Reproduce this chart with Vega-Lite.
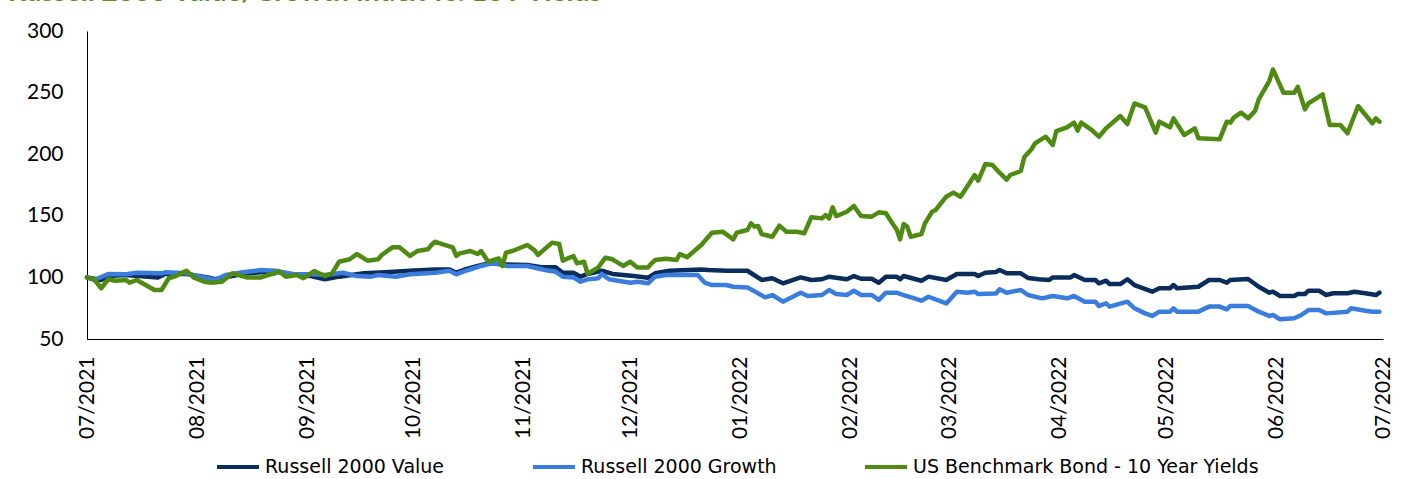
{
  "$schema": "https://vega.github.io/schema/vega-lite/v6.json",
  "width": 1296,
  "height": 308,
  "autosize": {"type": "none"},
  "padding": {"left": 87, "top": 31, "right": 19, "bottom": 140},
  "background": "white",
  "title": {"text": "Russell 2000 Value/Growth Index vs. 10Y Yields", "anchor": "start", "frame": "group", "dx": -79, "dy": -13, "offset": 0, "color": "#54921b", "font": "Lato", "fontSize": 28, "fontWeight": "bold"},
  "config": {"view": {"stroke": null}, "font": "Lato"},
  "data": {"values": [
    {"date":"2021-07-01","series":"Russell 2000 Value","value":100},
    {"date":"2021-07-05","series":"Russell 2000 Value","value":97.9},
    {"date":"2021-07-07","series":"Russell 2000 Value","value":101.1},
    {"date":"2021-07-12","series":"Russell 2000 Value","value":101.9},
    {"date":"2021-07-21","series":"Russell 2000 Value","value":100},
    {"date":"2021-07-23","series":"Russell 2000 Value","value":102.7},
    {"date":"2021-07-29","series":"Russell 2000 Value","value":102.7},
    {"date":"2021-08-04","series":"Russell 2000 Value","value":100},
    {"date":"2021-08-06","series":"Russell 2000 Value","value":98.5},
    {"date":"2021-08-15","series":"Russell 2000 Value","value":103.3},
    {"date":"2021-08-19","series":"Russell 2000 Value","value":104.1},
    {"date":"2021-08-23","series":"Russell 2000 Value","value":104.5},
    {"date":"2021-08-28","series":"Russell 2000 Value","value":102.5},
    {"date":"2021-09-02","series":"Russell 2000 Value","value":101.1},
    {"date":"2021-09-06","series":"Russell 2000 Value","value":98.5},
    {"date":"2021-09-10","series":"Russell 2000 Value","value":100.6},
    {"date":"2021-09-17","series":"Russell 2000 Value","value":103.3},
    {"date":"2021-09-23","series":"Russell 2000 Value","value":104.1},
    {"date":"2021-09-30","series":"Russell 2000 Value","value":105.4},
    {"date":"2021-10-07","series":"Russell 2000 Value","value":106.5},
    {"date":"2021-10-11","series":"Russell 2000 Value","value":106.5},
    {"date":"2021-10-13","series":"Russell 2000 Value","value":103.8},
    {"date":"2021-10-15","series":"Russell 2000 Value","value":106},
    {"date":"2021-10-19","series":"Russell 2000 Value","value":109.3},
    {"date":"2021-10-22","series":"Russell 2000 Value","value":111.4},
    {"date":"2021-10-26","series":"Russell 2000 Value","value":110.6},
    {"date":"2021-11-02","series":"Russell 2000 Value","value":110.1},
    {"date":"2021-11-06","series":"Russell 2000 Value","value":108.2},
    {"date":"2021-11-10","series":"Russell 2000 Value","value":108.2},
    {"date":"2021-11-12","series":"Russell 2000 Value","value":103.8},
    {"date":"2021-11-15","series":"Russell 2000 Value","value":103.8},
    {"date":"2021-11-17","series":"Russell 2000 Value","value":100.6},
    {"date":"2021-11-19","series":"Russell 2000 Value","value":102.8},
    {"date":"2021-11-23","series":"Russell 2000 Value","value":105.4},
    {"date":"2021-11-26","series":"Russell 2000 Value","value":102.8},
    {"date":"2021-12-02","series":"Russell 2000 Value","value":101.1},
    {"date":"2021-12-06","series":"Russell 2000 Value","value":99.8},
    {"date":"2021-12-08","series":"Russell 2000 Value","value":103.3},
    {"date":"2021-12-12","series":"Russell 2000 Value","value":105.4},
    {"date":"2021-12-21","series":"Russell 2000 Value","value":106.5},
    {"date":"2021-12-23","series":"Russell 2000 Value","value":106},
    {"date":"2021-12-28","series":"Russell 2000 Value","value":105.4},
    {"date":"2022-01-03","series":"Russell 2000 Value","value":105.4},
    {"date":"2022-01-07","series":"Russell 2000 Value","value":97.9},
    {"date":"2022-01-10","series":"Russell 2000 Value","value":99.3},
    {"date":"2022-01-13","series":"Russell 2000 Value","value":95.2},
    {"date":"2022-01-18","series":"Russell 2000 Value","value":100},
    {"date":"2022-01-21","series":"Russell 2000 Value","value":97.9},
    {"date":"2022-01-24","series":"Russell 2000 Value","value":98.5},
    {"date":"2022-01-26","series":"Russell 2000 Value","value":100.6},
    {"date":"2022-01-31","series":"Russell 2000 Value","value":98.5},
    {"date":"2022-02-02","series":"Russell 2000 Value","value":101.1},
    {"date":"2022-02-04","series":"Russell 2000 Value","value":98.9},
    {"date":"2022-02-07","series":"Russell 2000 Value","value":98.9},
    {"date":"2022-02-09","series":"Russell 2000 Value","value":95.7},
    {"date":"2022-02-11","series":"Russell 2000 Value","value":100.6},
    {"date":"2022-02-14","series":"Russell 2000 Value","value":100.6},
    {"date":"2022-02-15","series":"Russell 2000 Value","value":98.5},
    {"date":"2022-02-16","series":"Russell 2000 Value","value":101.1},
    {"date":"2022-02-21","series":"Russell 2000 Value","value":97.3},
    {"date":"2022-02-23","series":"Russell 2000 Value","value":100.6},
    {"date":"2022-02-28","series":"Russell 2000 Value","value":97.9},
    {"date":"2022-03-03","series":"Russell 2000 Value","value":102.8},
    {"date":"2022-03-08","series":"Russell 2000 Value","value":102.8},
    {"date":"2022-03-09","series":"Russell 2000 Value","value":101.1},
    {"date":"2022-03-11","series":"Russell 2000 Value","value":103.8},
    {"date":"2022-03-14","series":"Russell 2000 Value","value":104.4},
    {"date":"2022-03-15","series":"Russell 2000 Value","value":106},
    {"date":"2022-03-17","series":"Russell 2000 Value","value":103.3},
    {"date":"2022-03-21","series":"Russell 2000 Value","value":103.3},
    {"date":"2022-03-23","series":"Russell 2000 Value","value":99.6},
    {"date":"2022-03-26","series":"Russell 2000 Value","value":98.5},
    {"date":"2022-03-29","series":"Russell 2000 Value","value":97.9},
    {"date":"2022-03-30","series":"Russell 2000 Value","value":100},
    {"date":"2022-04-04","series":"Russell 2000 Value","value":100},
    {"date":"2022-04-05","series":"Russell 2000 Value","value":101.9},
    {"date":"2022-04-08","series":"Russell 2000 Value","value":97.9},
    {"date":"2022-04-11","series":"Russell 2000 Value","value":97.9},
    {"date":"2022-04-12","series":"Russell 2000 Value","value":95.2},
    {"date":"2022-04-14","series":"Russell 2000 Value","value":97.3},
    {"date":"2022-04-15","series":"Russell 2000 Value","value":94.6},
    {"date":"2022-04-18","series":"Russell 2000 Value","value":94.6},
    {"date":"2022-04-20","series":"Russell 2000 Value","value":98.5},
    {"date":"2022-04-22","series":"Russell 2000 Value","value":93.8},
    {"date":"2022-04-27","series":"Russell 2000 Value","value":88.4},
    {"date":"2022-04-29","series":"Russell 2000 Value","value":91.2},
    {"date":"2022-05-02","series":"Russell 2000 Value","value":91.2},
    {"date":"2022-05-03","series":"Russell 2000 Value","value":93.8},
    {"date":"2022-05-04","series":"Russell 2000 Value","value":91.2},
    {"date":"2022-05-10","series":"Russell 2000 Value","value":92.4},
    {"date":"2022-05-13","series":"Russell 2000 Value","value":97.9},
    {"date":"2022-05-16","series":"Russell 2000 Value","value":97.9},
    {"date":"2022-05-18","series":"Russell 2000 Value","value":95.7},
    {"date":"2022-05-19","series":"Russell 2000 Value","value":97.9},
    {"date":"2022-05-24","series":"Russell 2000 Value","value":98.7},
    {"date":"2022-05-27","series":"Russell 2000 Value","value":92.4},
    {"date":"2022-05-30","series":"Russell 2000 Value","value":87.6},
    {"date":"2022-05-31","series":"Russell 2000 Value","value":88.4},
    {"date":"2022-06-02","series":"Russell 2000 Value","value":84.9},
    {"date":"2022-06-06","series":"Russell 2000 Value","value":84.9},
    {"date":"2022-06-07","series":"Russell 2000 Value","value":86.5},
    {"date":"2022-06-09","series":"Russell 2000 Value","value":86.5},
    {"date":"2022-06-10","series":"Russell 2000 Value","value":89.2},
    {"date":"2022-06-13","series":"Russell 2000 Value","value":89.2},
    {"date":"2022-06-15","series":"Russell 2000 Value","value":85.7},
    {"date":"2022-06-17","series":"Russell 2000 Value","value":87.1},
    {"date":"2022-06-21","series":"Russell 2000 Value","value":87.1},
    {"date":"2022-06-23","series":"Russell 2000 Value","value":88.4},
    {"date":"2022-06-26","series":"Russell 2000 Value","value":87.1},
    {"date":"2022-06-29","series":"Russell 2000 Value","value":85.7},
    {"date":"2022-06-30","series":"Russell 2000 Value","value":87.6},
    {"date":"2021-07-01","series":"Russell 2000 Growth","value":100},
    {"date":"2021-07-03","series":"Russell 2000 Growth","value":97.9},
    {"date":"2021-07-07","series":"Russell 2000 Growth","value":102.8},
    {"date":"2021-07-12","series":"Russell 2000 Growth","value":102.6},
    {"date":"2021-07-15","series":"Russell 2000 Growth","value":103.8},
    {"date":"2021-07-22","series":"Russell 2000 Growth","value":103.3},
    {"date":"2021-07-23","series":"Russell 2000 Growth","value":104.1},
    {"date":"2021-07-29","series":"Russell 2000 Growth","value":103.3},
    {"date":"2021-08-02","series":"Russell 2000 Growth","value":100.6},
    {"date":"2021-08-06","series":"Russell 2000 Growth","value":97.9},
    {"date":"2021-08-09","series":"Russell 2000 Growth","value":101.9},
    {"date":"2021-08-14","series":"Russell 2000 Growth","value":104.1},
    {"date":"2021-08-19","series":"Russell 2000 Growth","value":106},
    {"date":"2021-08-23","series":"Russell 2000 Growth","value":105.4},
    {"date":"2021-08-28","series":"Russell 2000 Growth","value":102.5},
    {"date":"2021-09-02","series":"Russell 2000 Growth","value":102.5},
    {"date":"2021-09-06","series":"Russell 2000 Growth","value":101.9},
    {"date":"2021-09-11","series":"Russell 2000 Growth","value":103.8},
    {"date":"2021-09-15","series":"Russell 2000 Growth","value":101.1},
    {"date":"2021-09-19","series":"Russell 2000 Growth","value":100.6},
    {"date":"2021-09-21","series":"Russell 2000 Growth","value":101.9},
    {"date":"2021-09-26","series":"Russell 2000 Growth","value":100.6},
    {"date":"2021-09-30","series":"Russell 2000 Growth","value":102.5},
    {"date":"2021-10-07","series":"Russell 2000 Growth","value":103.8},
    {"date":"2021-10-11","series":"Russell 2000 Growth","value":105.4},
    {"date":"2021-10-13","series":"Russell 2000 Growth","value":102.5},
    {"date":"2021-10-15","series":"Russell 2000 Growth","value":104.6},
    {"date":"2021-10-20","series":"Russell 2000 Growth","value":109.3},
    {"date":"2021-10-23","series":"Russell 2000 Growth","value":111.4},
    {"date":"2021-10-25","series":"Russell 2000 Growth","value":110.9},
    {"date":"2021-10-27","series":"Russell 2000 Growth","value":109.3},
    {"date":"2021-11-02","series":"Russell 2000 Growth","value":109.3},
    {"date":"2021-11-07","series":"Russell 2000 Growth","value":106},
    {"date":"2021-11-10","series":"Russell 2000 Growth","value":104.6},
    {"date":"2021-11-12","series":"Russell 2000 Growth","value":100.6},
    {"date":"2021-11-15","series":"Russell 2000 Growth","value":100},
    {"date":"2021-11-17","series":"Russell 2000 Growth","value":96.5},
    {"date":"2021-11-19","series":"Russell 2000 Growth","value":98.4},
    {"date":"2021-11-22","series":"Russell 2000 Growth","value":99.3},
    {"date":"2021-11-23","series":"Russell 2000 Growth","value":102.8},
    {"date":"2021-11-25","series":"Russell 2000 Growth","value":98.5},
    {"date":"2021-12-01","series":"Russell 2000 Growth","value":95.7},
    {"date":"2021-12-03","series":"Russell 2000 Growth","value":96.5},
    {"date":"2021-12-06","series":"Russell 2000 Growth","value":95.2},
    {"date":"2021-12-08","series":"Russell 2000 Growth","value":100.6},
    {"date":"2021-12-11","series":"Russell 2000 Growth","value":101.9},
    {"date":"2021-12-20","series":"Russell 2000 Growth","value":101.9},
    {"date":"2021-12-22","series":"Russell 2000 Growth","value":95.7},
    {"date":"2021-12-24","series":"Russell 2000 Growth","value":93.8},
    {"date":"2021-12-28","series":"Russell 2000 Growth","value":93.8},
    {"date":"2021-12-30","series":"Russell 2000 Growth","value":92.4},
    {"date":"2022-01-03","series":"Russell 2000 Growth","value":91.9},
    {"date":"2022-01-08","series":"Russell 2000 Growth","value":83.8},
    {"date":"2022-01-10","series":"Russell 2000 Growth","value":85.7},
    {"date":"2022-01-13","series":"Russell 2000 Growth","value":80.3},
    {"date":"2022-01-18","series":"Russell 2000 Growth","value":87.6},
    {"date":"2022-01-20","series":"Russell 2000 Growth","value":84.9},
    {"date":"2022-01-24","series":"Russell 2000 Growth","value":85.7},
    {"date":"2022-01-26","series":"Russell 2000 Growth","value":89.8},
    {"date":"2022-01-28","series":"Russell 2000 Growth","value":86.5},
    {"date":"2022-01-31","series":"Russell 2000 Growth","value":85.7},
    {"date":"2022-02-02","series":"Russell 2000 Growth","value":89.2},
    {"date":"2022-02-04","series":"Russell 2000 Growth","value":85.7},
    {"date":"2022-02-07","series":"Russell 2000 Growth","value":85.7},
    {"date":"2022-02-09","series":"Russell 2000 Growth","value":81.7},
    {"date":"2022-02-11","series":"Russell 2000 Growth","value":87.6},
    {"date":"2022-02-14","series":"Russell 2000 Growth","value":87.6},
    {"date":"2022-02-16","series":"Russell 2000 Growth","value":85.7},
    {"date":"2022-02-19","series":"Russell 2000 Growth","value":83},
    {"date":"2022-02-21","series":"Russell 2000 Growth","value":81.1},
    {"date":"2022-02-23","series":"Russell 2000 Growth","value":84.3},
    {"date":"2022-02-28","series":"Russell 2000 Growth","value":78.9},
    {"date":"2022-03-03","series":"Russell 2000 Growth","value":88.4},
    {"date":"2022-03-06","series":"Russell 2000 Growth","value":87.6},
    {"date":"2022-03-08","series":"Russell 2000 Growth","value":88.4},
    {"date":"2022-03-09","series":"Russell 2000 Growth","value":86.5},
    {"date":"2022-03-14","series":"Russell 2000 Growth","value":87},
    {"date":"2022-03-15","series":"Russell 2000 Growth","value":90.3},
    {"date":"2022-03-17","series":"Russell 2000 Growth","value":87.5},
    {"date":"2022-03-21","series":"Russell 2000 Growth","value":89.8},
    {"date":"2022-03-23","series":"Russell 2000 Growth","value":85.7},
    {"date":"2022-03-27","series":"Russell 2000 Growth","value":83},
    {"date":"2022-03-30","series":"Russell 2000 Growth","value":84.9},
    {"date":"2022-04-03","series":"Russell 2000 Growth","value":83},
    {"date":"2022-04-05","series":"Russell 2000 Growth","value":84.9},
    {"date":"2022-04-08","series":"Russell 2000 Growth","value":80.3},
    {"date":"2022-04-11","series":"Russell 2000 Growth","value":80.3},
    {"date":"2022-04-12","series":"Russell 2000 Growth","value":76.8},
    {"date":"2022-04-14","series":"Russell 2000 Growth","value":78.9},
    {"date":"2022-04-15","series":"Russell 2000 Growth","value":76.3},
    {"date":"2022-04-20","series":"Russell 2000 Growth","value":80.3},
    {"date":"2022-04-22","series":"Russell 2000 Growth","value":74.9},
    {"date":"2022-04-25","series":"Russell 2000 Growth","value":70.8},
    {"date":"2022-04-27","series":"Russell 2000 Growth","value":68.7},
    {"date":"2022-04-29","series":"Russell 2000 Growth","value":72.2},
    {"date":"2022-05-02","series":"Russell 2000 Growth","value":72.2},
    {"date":"2022-05-03","series":"Russell 2000 Growth","value":74.9},
    {"date":"2022-05-04","series":"Russell 2000 Growth","value":72.2},
    {"date":"2022-05-10","series":"Russell 2000 Growth","value":72.2},
    {"date":"2022-05-13","series":"Russell 2000 Growth","value":76.3},
    {"date":"2022-05-16","series":"Russell 2000 Growth","value":76.3},
    {"date":"2022-05-18","series":"Russell 2000 Growth","value":74.1},
    {"date":"2022-05-19","series":"Russell 2000 Growth","value":76.8},
    {"date":"2022-05-24","series":"Russell 2000 Growth","value":76.8},
    {"date":"2022-05-27","series":"Russell 2000 Growth","value":72.2},
    {"date":"2022-05-30","series":"Russell 2000 Growth","value":68.7},
    {"date":"2022-05-31","series":"Russell 2000 Growth","value":69.5},
    {"date":"2022-06-02","series":"Russell 2000 Growth","value":66},
    {"date":"2022-06-06","series":"Russell 2000 Growth","value":66.8},
    {"date":"2022-06-08","series":"Russell 2000 Growth","value":69.5},
    {"date":"2022-06-10","series":"Russell 2000 Growth","value":73.5},
    {"date":"2022-06-13","series":"Russell 2000 Growth","value":73.5},
    {"date":"2022-06-15","series":"Russell 2000 Growth","value":70.8},
    {"date":"2022-06-21","series":"Russell 2000 Growth","value":72.2},
    {"date":"2022-06-22","series":"Russell 2000 Growth","value":74.9},
    {"date":"2022-06-26","series":"Russell 2000 Growth","value":73},
    {"date":"2022-06-28","series":"Russell 2000 Growth","value":72.2},
    {"date":"2022-06-30","series":"Russell 2000 Growth","value":72.2},
    {"date":"2021-07-01","series":"US Benchmark Bond - 10 Year Yields","value":100},
    {"date":"2021-07-03","series":"US Benchmark Bond - 10 Year Yields","value":98.5},
    {"date":"2021-07-05","series":"US Benchmark Bond - 10 Year Yields","value":91.2},
    {"date":"2021-07-07","series":"US Benchmark Bond - 10 Year Yields","value":98.5},
    {"date":"2021-07-09","series":"US Benchmark Bond - 10 Year Yields","value":97.3},
    {"date":"2021-07-12","series":"US Benchmark Bond - 10 Year Yields","value":97.9},
    {"date":"2021-07-13","series":"US Benchmark Bond - 10 Year Yields","value":95.7},
    {"date":"2021-07-15","series":"US Benchmark Bond - 10 Year Yields","value":97.9},
    {"date":"2021-07-18","series":"US Benchmark Bond - 10 Year Yields","value":93},
    {"date":"2021-07-20","series":"US Benchmark Bond - 10 Year Yields","value":89.8},
    {"date":"2021-07-22","series":"US Benchmark Bond - 10 Year Yields","value":89.8},
    {"date":"2021-07-24","series":"US Benchmark Bond - 10 Year Yields","value":99.3},
    {"date":"2021-07-26","series":"US Benchmark Bond - 10 Year Yields","value":101.1},
    {"date":"2021-07-29","series":"US Benchmark Bond - 10 Year Yields","value":105.4},
    {"date":"2021-07-31","series":"US Benchmark Bond - 10 Year Yields","value":100},
    {"date":"2021-08-03","series":"US Benchmark Bond - 10 Year Yields","value":96.5},
    {"date":"2021-08-05","series":"US Benchmark Bond - 10 Year Yields","value":95.7},
    {"date":"2021-08-08","series":"US Benchmark Bond - 10 Year Yields","value":96.5},
    {"date":"2021-08-11","series":"US Benchmark Bond - 10 Year Yields","value":103.3},
    {"date":"2021-08-15","series":"US Benchmark Bond - 10 Year Yields","value":100},
    {"date":"2021-08-19","series":"US Benchmark Bond - 10 Year Yields","value":100},
    {"date":"2021-08-21","series":"US Benchmark Bond - 10 Year Yields","value":101.9},
    {"date":"2021-08-23","series":"US Benchmark Bond - 10 Year Yields","value":103.3},
    {"date":"2021-08-24","series":"US Benchmark Bond - 10 Year Yields","value":105.2},
    {"date":"2021-08-26","series":"US Benchmark Bond - 10 Year Yields","value":100.6},
    {"date":"2021-08-29","series":"US Benchmark Bond - 10 Year Yields","value":101.9},
    {"date":"2021-08-31","series":"US Benchmark Bond - 10 Year Yields","value":99.3},
    {"date":"2021-09-03","series":"US Benchmark Bond - 10 Year Yields","value":105.2},
    {"date":"2021-09-06","series":"US Benchmark Bond - 10 Year Yields","value":101.1},
    {"date":"2021-09-08","series":"US Benchmark Bond - 10 Year Yields","value":103.3},
    {"date":"2021-09-10","series":"US Benchmark Bond - 10 Year Yields","value":112.7},
    {"date":"2021-09-13","series":"US Benchmark Bond - 10 Year Yields","value":114.7},
    {"date":"2021-09-15","series":"US Benchmark Bond - 10 Year Yields","value":119},
    {"date":"2021-09-18","series":"US Benchmark Bond - 10 Year Yields","value":113.6},
    {"date":"2021-09-21","series":"US Benchmark Bond - 10 Year Yields","value":114.7},
    {"date":"2021-09-22","series":"US Benchmark Bond - 10 Year Yields","value":118.2},
    {"date":"2021-09-25","series":"US Benchmark Bond - 10 Year Yields","value":124.4},
    {"date":"2021-09-27","series":"US Benchmark Bond - 10 Year Yields","value":124.4},
    {"date":"2021-09-30","series":"US Benchmark Bond - 10 Year Yields","value":117.4},
    {"date":"2021-10-02","series":"US Benchmark Bond - 10 Year Yields","value":121.4},
    {"date":"2021-10-05","series":"US Benchmark Bond - 10 Year Yields","value":122.8},
    {"date":"2021-10-06","series":"US Benchmark Bond - 10 Year Yields","value":126.3},
    {"date":"2021-10-07","series":"US Benchmark Bond - 10 Year Yields","value":129},
    {"date":"2021-10-09","series":"US Benchmark Bond - 10 Year Yields","value":127.1},
    {"date":"2021-10-12","series":"US Benchmark Bond - 10 Year Yields","value":124.4},
    {"date":"2021-10-13","series":"US Benchmark Bond - 10 Year Yields","value":117.4},
    {"date":"2021-10-14","series":"US Benchmark Bond - 10 Year Yields","value":119.5},
    {"date":"2021-10-17","series":"US Benchmark Bond - 10 Year Yields","value":121.4},
    {"date":"2021-10-19","series":"US Benchmark Bond - 10 Year Yields","value":119},
    {"date":"2021-10-20","series":"US Benchmark Bond - 10 Year Yields","value":121.4},
    {"date":"2021-10-22","series":"US Benchmark Bond - 10 Year Yields","value":112.7},
    {"date":"2021-10-25","series":"US Benchmark Bond - 10 Year Yields","value":115.4},
    {"date":"2021-10-26","series":"US Benchmark Bond - 10 Year Yields","value":109.3},
    {"date":"2021-10-27","series":"US Benchmark Bond - 10 Year Yields","value":120.1},
    {"date":"2021-10-29","series":"US Benchmark Bond - 10 Year Yields","value":121.6},
    {"date":"2021-11-02","series":"US Benchmark Bond - 10 Year Yields","value":126.3},
    {"date":"2021-11-04","series":"US Benchmark Bond - 10 Year Yields","value":122.2},
    {"date":"2021-11-05","series":"US Benchmark Bond - 10 Year Yields","value":118.2},
    {"date":"2021-11-09","series":"US Benchmark Bond - 10 Year Yields","value":128.2},
    {"date":"2021-11-11","series":"US Benchmark Bond - 10 Year Yields","value":127.1},
    {"date":"2021-11-12","series":"US Benchmark Bond - 10 Year Yields","value":113.6},
    {"date":"2021-11-15","series":"US Benchmark Bond - 10 Year Yields","value":117.4},
    {"date":"2021-11-16","series":"US Benchmark Bond - 10 Year Yields","value":111.4},
    {"date":"2021-11-18","series":"US Benchmark Bond - 10 Year Yields","value":112.7},
    {"date":"2021-11-19","series":"US Benchmark Bond - 10 Year Yields","value":102.8},
    {"date":"2021-11-22","series":"US Benchmark Bond - 10 Year Yields","value":108.2},
    {"date":"2021-11-24","series":"US Benchmark Bond - 10 Year Yields","value":116},
    {"date":"2021-11-26","series":"US Benchmark Bond - 10 Year Yields","value":114.7},
    {"date":"2021-11-29","series":"US Benchmark Bond - 10 Year Yields","value":109.3},
    {"date":"2021-12-01","series":"US Benchmark Bond - 10 Year Yields","value":112.7},
    {"date":"2021-12-03","series":"US Benchmark Bond - 10 Year Yields","value":108.1},
    {"date":"2021-12-06","series":"US Benchmark Bond - 10 Year Yields","value":108.1},
    {"date":"2021-12-07","series":"US Benchmark Bond - 10 Year Yields","value":111.4},
    {"date":"2021-12-08","series":"US Benchmark Bond - 10 Year Yields","value":114.1},
    {"date":"2021-12-11","series":"US Benchmark Bond - 10 Year Yields","value":115.2},
    {"date":"2021-12-14","series":"US Benchmark Bond - 10 Year Yields","value":114.1},
    {"date":"2021-12-15","series":"US Benchmark Bond - 10 Year Yields","value":119},
    {"date":"2021-12-17","series":"US Benchmark Bond - 10 Year Yields","value":116.4},
    {"date":"2021-12-21","series":"US Benchmark Bond - 10 Year Yields","value":126.3},
    {"date":"2021-12-24","series":"US Benchmark Bond - 10 Year Yields","value":136.3},
    {"date":"2021-12-27","series":"US Benchmark Bond - 10 Year Yields","value":137.1},
    {"date":"2021-12-30","series":"US Benchmark Bond - 10 Year Yields","value":130.9},
    {"date":"2021-12-31","series":"US Benchmark Bond - 10 Year Yields","value":136.3},
    {"date":"2022-01-03","series":"US Benchmark Bond - 10 Year Yields","value":138.5},
    {"date":"2022-01-04","series":"US Benchmark Bond - 10 Year Yields","value":143.9},
    {"date":"2022-01-05","series":"US Benchmark Bond - 10 Year Yields","value":141.2},
    {"date":"2022-01-06","series":"US Benchmark Bond - 10 Year Yields","value":141.7},
    {"date":"2022-01-07","series":"US Benchmark Bond - 10 Year Yields","value":135.2},
    {"date":"2022-01-10","series":"US Benchmark Bond - 10 Year Yields","value":133},
    {"date":"2022-01-12","series":"US Benchmark Bond - 10 Year Yields","value":142},
    {"date":"2022-01-14","series":"US Benchmark Bond - 10 Year Yields","value":137.1},
    {"date":"2022-01-17","series":"US Benchmark Bond - 10 Year Yields","value":137.1},
    {"date":"2022-01-19","series":"US Benchmark Bond - 10 Year Yields","value":135.8},
    {"date":"2022-01-21","series":"US Benchmark Bond - 10 Year Yields","value":148.8},
    {"date":"2022-01-24","series":"US Benchmark Bond - 10 Year Yields","value":147.9},
    {"date":"2022-01-25","series":"US Benchmark Bond - 10 Year Yields","value":150.6},
    {"date":"2022-01-26","series":"US Benchmark Bond - 10 Year Yields","value":147.9},
    {"date":"2022-01-27","series":"US Benchmark Bond - 10 Year Yields","value":156.9},
    {"date":"2022-01-28","series":"US Benchmark Bond - 10 Year Yields","value":149.8},
    {"date":"2022-01-31","series":"US Benchmark Bond - 10 Year Yields","value":153.3},
    {"date":"2022-02-02","series":"US Benchmark Bond - 10 Year Yields","value":158},
    {"date":"2022-02-04","series":"US Benchmark Bond - 10 Year Yields","value":149.8},
    {"date":"2022-02-07","series":"US Benchmark Bond - 10 Year Yields","value":149.3},
    {"date":"2022-02-09","series":"US Benchmark Bond - 10 Year Yields","value":152.8},
    {"date":"2022-02-11","series":"US Benchmark Bond - 10 Year Yields","value":152},
    {"date":"2022-02-13","series":"US Benchmark Bond - 10 Year Yields","value":143.1},
    {"date":"2022-02-14","series":"US Benchmark Bond - 10 Year Yields","value":139},
    {"date":"2022-02-15","series":"US Benchmark Bond - 10 Year Yields","value":130.9},
    {"date":"2022-02-16","series":"US Benchmark Bond - 10 Year Yields","value":143.3},
    {"date":"2022-02-17","series":"US Benchmark Bond - 10 Year Yields","value":141.2},
    {"date":"2022-02-18","series":"US Benchmark Bond - 10 Year Yields","value":133},
    {"date":"2022-02-21","series":"US Benchmark Bond - 10 Year Yields","value":135.2},
    {"date":"2022-02-22","series":"US Benchmark Bond - 10 Year Yields","value":143.9},
    {"date":"2022-02-24","series":"US Benchmark Bond - 10 Year Yields","value":153.3},
    {"date":"2022-02-25","series":"US Benchmark Bond - 10 Year Yields","value":154.7},
    {"date":"2022-02-28","series":"US Benchmark Bond - 10 Year Yields","value":165.5},
    {"date":"2022-03-02","series":"US Benchmark Bond - 10 Year Yields","value":168.8},
    {"date":"2022-03-04","series":"US Benchmark Bond - 10 Year Yields","value":165.5},
    {"date":"2022-03-06","series":"US Benchmark Bond - 10 Year Yields","value":174.2},
    {"date":"2022-03-08","series":"US Benchmark Bond - 10 Year Yields","value":183.1},
    {"date":"2022-03-09","series":"US Benchmark Bond - 10 Year Yields","value":178.5},
    {"date":"2022-03-11","series":"US Benchmark Bond - 10 Year Yields","value":192},
    {"date":"2022-03-13","series":"US Benchmark Bond - 10 Year Yields","value":191.2},
    {"date":"2022-03-15","series":"US Benchmark Bond - 10 Year Yields","value":185},
    {"date":"2022-03-17","series":"US Benchmark Bond - 10 Year Yields","value":179.3},
    {"date":"2022-03-18","series":"US Benchmark Bond - 10 Year Yields","value":183.1},
    {"date":"2022-03-21","series":"US Benchmark Bond - 10 Year Yields","value":186.4},
    {"date":"2022-03-22","series":"US Benchmark Bond - 10 Year Yields","value":197.7},
    {"date":"2022-03-24","series":"US Benchmark Bond - 10 Year Yields","value":204},
    {"date":"2022-03-25","series":"US Benchmark Bond - 10 Year Yields","value":208.8},
    {"date":"2022-03-28","series":"US Benchmark Bond - 10 Year Yields","value":214.2},
    {"date":"2022-03-30","series":"US Benchmark Bond - 10 Year Yields","value":207.5},
    {"date":"2022-03-31","series":"US Benchmark Bond - 10 Year Yields","value":218.8},
    {"date":"2022-04-03","series":"US Benchmark Bond - 10 Year Yields","value":221.8},
    {"date":"2022-04-05","series":"US Benchmark Bond - 10 Year Yields","value":225.6},
    {"date":"2022-04-06","series":"US Benchmark Bond - 10 Year Yields","value":219.1},
    {"date":"2022-04-07","series":"US Benchmark Bond - 10 Year Yields","value":225.6},
    {"date":"2022-04-10","series":"US Benchmark Bond - 10 Year Yields","value":219.6},
    {"date":"2022-04-12","series":"US Benchmark Bond - 10 Year Yields","value":214.2},
    {"date":"2022-04-14","series":"US Benchmark Bond - 10 Year Yields","value":221},
    {"date":"2022-04-18","series":"US Benchmark Bond - 10 Year Yields","value":231},
    {"date":"2022-04-20","series":"US Benchmark Bond - 10 Year Yields","value":224.5},
    {"date":"2022-04-22","series":"US Benchmark Bond - 10 Year Yields","value":241.2},
    {"date":"2022-04-25","series":"US Benchmark Bond - 10 Year Yields","value":238},
    {"date":"2022-04-28","series":"US Benchmark Bond - 10 Year Yields","value":217.5},
    {"date":"2022-04-29","series":"US Benchmark Bond - 10 Year Yields","value":226.4},
    {"date":"2022-05-02","series":"US Benchmark Bond - 10 Year Yields","value":221.8},
    {"date":"2022-05-03","series":"US Benchmark Bond - 10 Year Yields","value":229.1},
    {"date":"2022-05-06","series":"US Benchmark Bond - 10 Year Yields","value":215.6},
    {"date":"2022-05-09","series":"US Benchmark Bond - 10 Year Yields","value":221},
    {"date":"2022-05-10","series":"US Benchmark Bond - 10 Year Yields","value":212.9},
    {"date":"2022-05-16","series":"US Benchmark Bond - 10 Year Yields","value":212.1},
    {"date":"2022-05-18","series":"US Benchmark Bond - 10 Year Yields","value":226.4},
    {"date":"2022-05-19","series":"US Benchmark Bond - 10 Year Yields","value":225.6},
    {"date":"2022-05-20","series":"US Benchmark Bond - 10 Year Yields","value":229.7},
    {"date":"2022-05-22","series":"US Benchmark Bond - 10 Year Yields","value":233.8},
    {"date":"2022-05-24","series":"US Benchmark Bond - 10 Year Yields","value":229.1},
    {"date":"2022-05-26","series":"US Benchmark Bond - 10 Year Yields","value":235.3},
    {"date":"2022-05-27","series":"US Benchmark Bond - 10 Year Yields","value":244.5},
    {"date":"2022-05-30","series":"US Benchmark Bond - 10 Year Yields","value":259.6},
    {"date":"2022-05-31","series":"US Benchmark Bond - 10 Year Yields","value":268.8},
    {"date":"2022-06-03","series":"US Benchmark Bond - 10 Year Yields","value":249.8},
    {"date":"2022-06-06","series":"US Benchmark Bond - 10 Year Yields","value":249.8},
    {"date":"2022-06-07","series":"US Benchmark Bond - 10 Year Yields","value":254.7},
    {"date":"2022-06-09","series":"US Benchmark Bond - 10 Year Yields","value":236.4},
    {"date":"2022-06-10","series":"US Benchmark Bond - 10 Year Yields","value":241.2},
    {"date":"2022-06-14","series":"US Benchmark Bond - 10 Year Yields","value":248.5},
    {"date":"2022-06-16","series":"US Benchmark Bond - 10 Year Yields","value":223.7},
    {"date":"2022-06-19","series":"US Benchmark Bond - 10 Year Yields","value":223.7},
    {"date":"2022-06-21","series":"US Benchmark Bond - 10 Year Yields","value":217},
    {"date":"2022-06-24","series":"US Benchmark Bond - 10 Year Yields","value":239.1},
    {"date":"2022-06-28","series":"US Benchmark Bond - 10 Year Yields","value":225.1},
    {"date":"2022-06-29","series":"US Benchmark Bond - 10 Year Yields","value":229.1},
    {"date":"2022-06-30","series":"US Benchmark Bond - 10 Year Yields","value":226.4}
  ]},
  "mark": {"type": "line", "strokeWidth": 4.5, "strokeJoin": "round", "strokeCap": "round"},
  "encoding": {
    "x": {
      "field": "date", "type": "temporal",
      "scale": {"type": "utc", "nice": false, "domain": [{"year": 2021, "month": 7, "date": 1, "utc": true}, {"year": 2022, "month": 7, "date": 1, "utc": true}]},
      "axis": {
        "title": null, "labelExpr": "utcFormat(datum.value, '%m/%Y')", "grid": false, "ticks": false, "tickSize": 0,
        "values": [
          {"year": 2021, "month": 7, "date": 1, "utc": true},
          {"year": 2021, "month": 8, "date": 1, "utc": true},
          {"year": 2021, "month": 9, "date": 1, "utc": true},
          {"year": 2021, "month": 10, "date": 1, "utc": true},
          {"year": 2021, "month": 11, "date": 1, "utc": true},
          {"year": 2021, "month": 12, "date": 1, "utc": true},
          {"year": 2022, "month": 1, "date": 1, "utc": true},
          {"year": 2022, "month": 2, "date": 1, "utc": true},
          {"year": 2022, "month": 3, "date": 1, "utc": true},
          {"year": 2022, "month": 4, "date": 1, "utc": true},
          {"year": 2022, "month": 5, "date": 1, "utc": true},
          {"year": 2022, "month": 6, "date": 1, "utc": true},
          {"year": 2022, "month": 7, "date": 1, "utc": true}
        ],
        "labelAngle": 270, "labelPadding": 17, "labelFont": "Lato", "labelFontSize": 21, "labelColor": "#000000",
        "labelOverlap": false, "labelFlush": false, "domainColor": "#000000", "domainWidth": 1
      }
    },
    "y": {
      "field": "value", "type": "quantitative",
      "scale": {"domain": [50, 300], "nice": false, "zero": false},
      "axis": {
        "title": null, "values": [50, 100, 150, 200, 250, 300], "grid": false, "ticks": false, "tickSize": 0,
        "labelPadding": 24, "labelFont": "Lato", "labelFontSize": 21, "labelColor": "#000000",
        "domainColor": "#000000", "domainWidth": 1
      }
    },
    "color": {
      "field": "series", "type": "nominal",
      "scale": {"domain": ["Russell 2000 Value", "Russell 2000 Growth", "US Benchmark Bond - 10 Year Yields"], "range": ["#0b2d5c", "#3a7ddc", "#4f8a12"]},
      "legend": {
        "title": null, "orient": "none", "legendX": 128, "legendY": 413, "direction": "horizontal",
        "symbolType": "stroke", "symbolSize": 1764, "symbolStrokeWidth": 4,
        "labelFont": "DejaVu Sans", "labelFontSize": 19, "labelColor": "#000000", "labelLimit": 0,
        "labelOffset": 4, "columnPadding": 80
      }
    }
  }
}
